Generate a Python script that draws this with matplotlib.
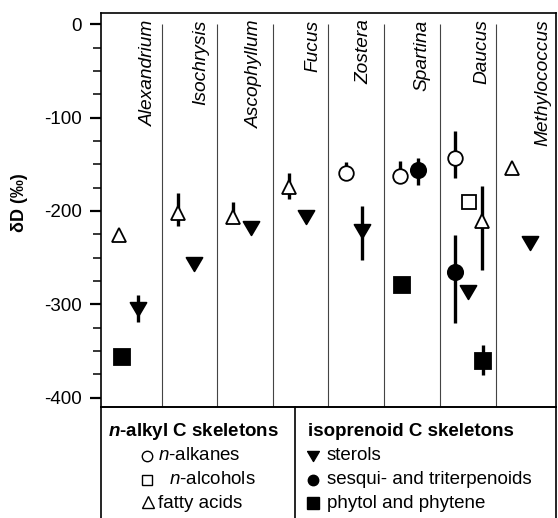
"""dD of lipid classes by organism, with skeleton-type key below."""
import matplotlib

matplotlib.use("Agg")
import matplotlib.pyplot as plt
from matplotlib.path import Path

plt.rcParams["font.family"] = ["Liberation Sans", "DejaVu Sans"]
plt.rcParams["axes.unicode_minus"] = False
plt.rcParams["mathtext.fontset"] = "custom"
plt.rcParams["mathtext.it"] = "Liberation Sans:italic"
plt.rcParams["mathtext.rm"] = "Liberation Sans"
plt.rcParams["mathtext.bf"] = "Liberation Sans:bold"
plt.rcParams["mathtext.bfit"] = "Liberation Sans:italic:bold"

species = ["Alexandrium", "Isochrysis", "Ascophyllum", "Fucus",
           "Zostera", "Spartina", "Daucus", "Methylococcus"]

# each series: column index, dD value, upper / lower end of the range bar
alkanes_col = [4, 5, 6]
alkanes_val = [-159, -163, -143]
alkanes_top = [-148, -147, -114]
alkanes_bot = [-159, -163, -165]

alcohols_col = [6]
alcohols_val = [-190]
alcohols_top = [-190]
alcohols_bot = [-190]

fatty_col = [0, 1, 2, 3, 6, 7]
fatty_val = [-226, -202, -206, -174, -211, -154]
fatty_top = [-226, -181, -190, -159, -173, -154]
fatty_bot = [-226, -216, -206, -187, -263, -154]

sterols_col = [0, 1, 2, 3, 4, 6, 7]
sterols_val = [-305, -257, -218, -207, -222, -287, -234]
sterols_top = [-290, -257, -218, -207, -195, -287, -234]
sterols_bot = [-319, -257, -218, -207, -253, -287, -234]

terp_col = [5, 6]
terp_val = [-156, -265]
terp_top = [-143, -226]
terp_bot = [-172, -320]

phytol_col = [0, 5, 6]
phytol_val = [-356, -279, -361]
phytol_top = [-356, -279, -344]
phytol_bot = [-356, -279, -376]

# horizontal placement inside each column (layout only)
alkanes_off = [0.31, 0.26, 0.22]
alcohols_off = [0.47]
fatty_off = [0.32, 0.35, 0.32, 0.31, 0.70, 0.23]
sterols_off = [0.65, 0.63, 0.64, 0.60, 0.59, 0.45, 0.54]
terp_off = [0.57, 0.22]
phytol_off = [0.37, 0.29, 0.72]
divider_x = [1.07, 2.04, 3.03, 3.99, 4.97, 5.96, 6.94]
label_off = [0.83, 0.76, 0.70, 0.73, 0.62, 0.64, 0.70, 0.77]

W, H = 558, 518
fig = plt.figure(figsize=(W / 100, H / 100), dpi=100)


def fx(px):
    return px / W


def fy(py):
    return 1 - py / H


ax = fig.add_axes([fx(101), fy(407), fx(556) - fx(101), fy(13) - fy(407)])
ax.set_xlim(0, 8)
ax.set_ylim(-410, 12)

ax.vlines(divider_x, -410, 0, color="#444444", lw=0.8, zorder=1)

sterol_marker = Path([(-1, 0.85), (1, 0.85), (0, -0.85), (-1, 0.85)],
                     [Path.MOVETO, Path.LINETO, Path.LINETO, Path.CLOSEPOLY])

series = [
    (alkanes_col, alkanes_off, alkanes_val, alkanes_top, alkanes_bot, "o", "white", 10.5),
    (alcohols_col, alcohols_off, alcohols_val, alcohols_top, alcohols_bot, "s", "white", 10),
    (fatty_col, fatty_off, fatty_val, fatty_top, fatty_bot, "^", "white", 10.5),
    (sterols_col, sterols_off, sterols_val, sterols_top, sterols_bot, sterol_marker, "black", 11.5),
    (terp_col, terp_off, terp_val, terp_top, terp_bot, "o", "black", 11),
    (phytol_col, phytol_off, phytol_val, phytol_top, phytol_bot, "s", "black", 11),
]

for cols, offs, vals, tops, bots, mk, fc, ms in series:
    xs = [c + o for c, o in zip(cols, offs)]
    for x, t, b in zip(xs, tops, bots):
        if t != b:
            ax.plot([x, x], [b, t], color="black", lw=2.4, solid_capstyle="butt", zorder=2)
    ax.plot(xs, vals, ls="none", marker=mk, ms=ms, mfc=fc, mec="black",
            mew=1.3, zorder=3)

for i, name in enumerate(species):
    ax.text(i + label_off[i], 5, name, rotation=90, ha="center", va="top",
            style="italic", fontsize=13.8)

ax.set_xticks([])
ax.set_yticks([0, -100, -200, -300, -400])
ax.set_yticks(range(-400, 1, 25), minor=True)
ax.tick_params(axis="y", which="major", length=8, width=1.6, labelsize=13.5, pad=6)
ax.tick_params(axis="y", which="minor", length=5.5, width=1.1)
for sp in ax.spines.values():
    sp.set_linewidth(1.2)

fig.text(fx(19), fy(203), "δD (‰)", rotation=90, ha="center", va="center",
         fontsize=13, fontweight="bold")

# key box under the plot
key = fig.add_axes([fx(101), 0, fx(556) - fx(101), fy(407)])
key.set_xticks([])
key.set_yticks([])
key.spines["bottom"].set_visible(False)
for sp in key.spines.values():
    sp.set_linewidth(1.2)
key.patch.set_alpha(0)
fig.add_artist(plt.Line2D([fx(295), fx(295)], [0, fy(407)], color="black", lw=1.2))

fs = 13.5
key_rows = [456, 480, 503]


def key_symbol(px, py, mk, fc, ms):
    fig.add_artist(plt.Line2D([fx(px)], [fy(py)], ls="none", marker=mk, ms=ms,
                              mfc=fc, mec="black", mew=1.0))


fig.text(fx(108), fy(432), r"$\mathbfit{n}$-alkyl C skeletons", fontweight="bold",
         fontsize=fs, va="center")
key_symbol(147, key_rows[0], "o", "white", 7.5)
fig.text(fx(158), fy(key_rows[0]), r"$\mathit{n}$-alkanes", fontsize=fs, va="center")
key_symbol(147, key_rows[1], "s", "white", 7.5)
fig.text(fx(169), fy(key_rows[1]), r"$\mathit{n}$-alcohols", fontsize=fs, va="center")
key_symbol(148, key_rows[2] - 1, "^", "white", 8.5)
fig.text(fx(158), fy(key_rows[2]), "fatty acids", fontsize=fs, va="center")

fig.text(fx(308), fy(432), "isoprenoid C skeletons", fontweight="bold",
         fontsize=fs, va="center")
key_symbol(313, key_rows[0], sterol_marker, "black", 8.5)
fig.text(fx(327), fy(key_rows[0]), "sterols", fontsize=fs, va="center")
key_symbol(313, key_rows[1], "o", "black", 7.5)
fig.text(fx(327), fy(key_rows[1]), "sesqui- and triterpenoids", fontsize=fs, va="center")
key_symbol(313, key_rows[2], "s", "black", 8)
fig.text(fx(327), fy(key_rows[2]), "phytol and phytene", fontsize=fs, va="center")

fig.savefig("out.png", dpi=100)
